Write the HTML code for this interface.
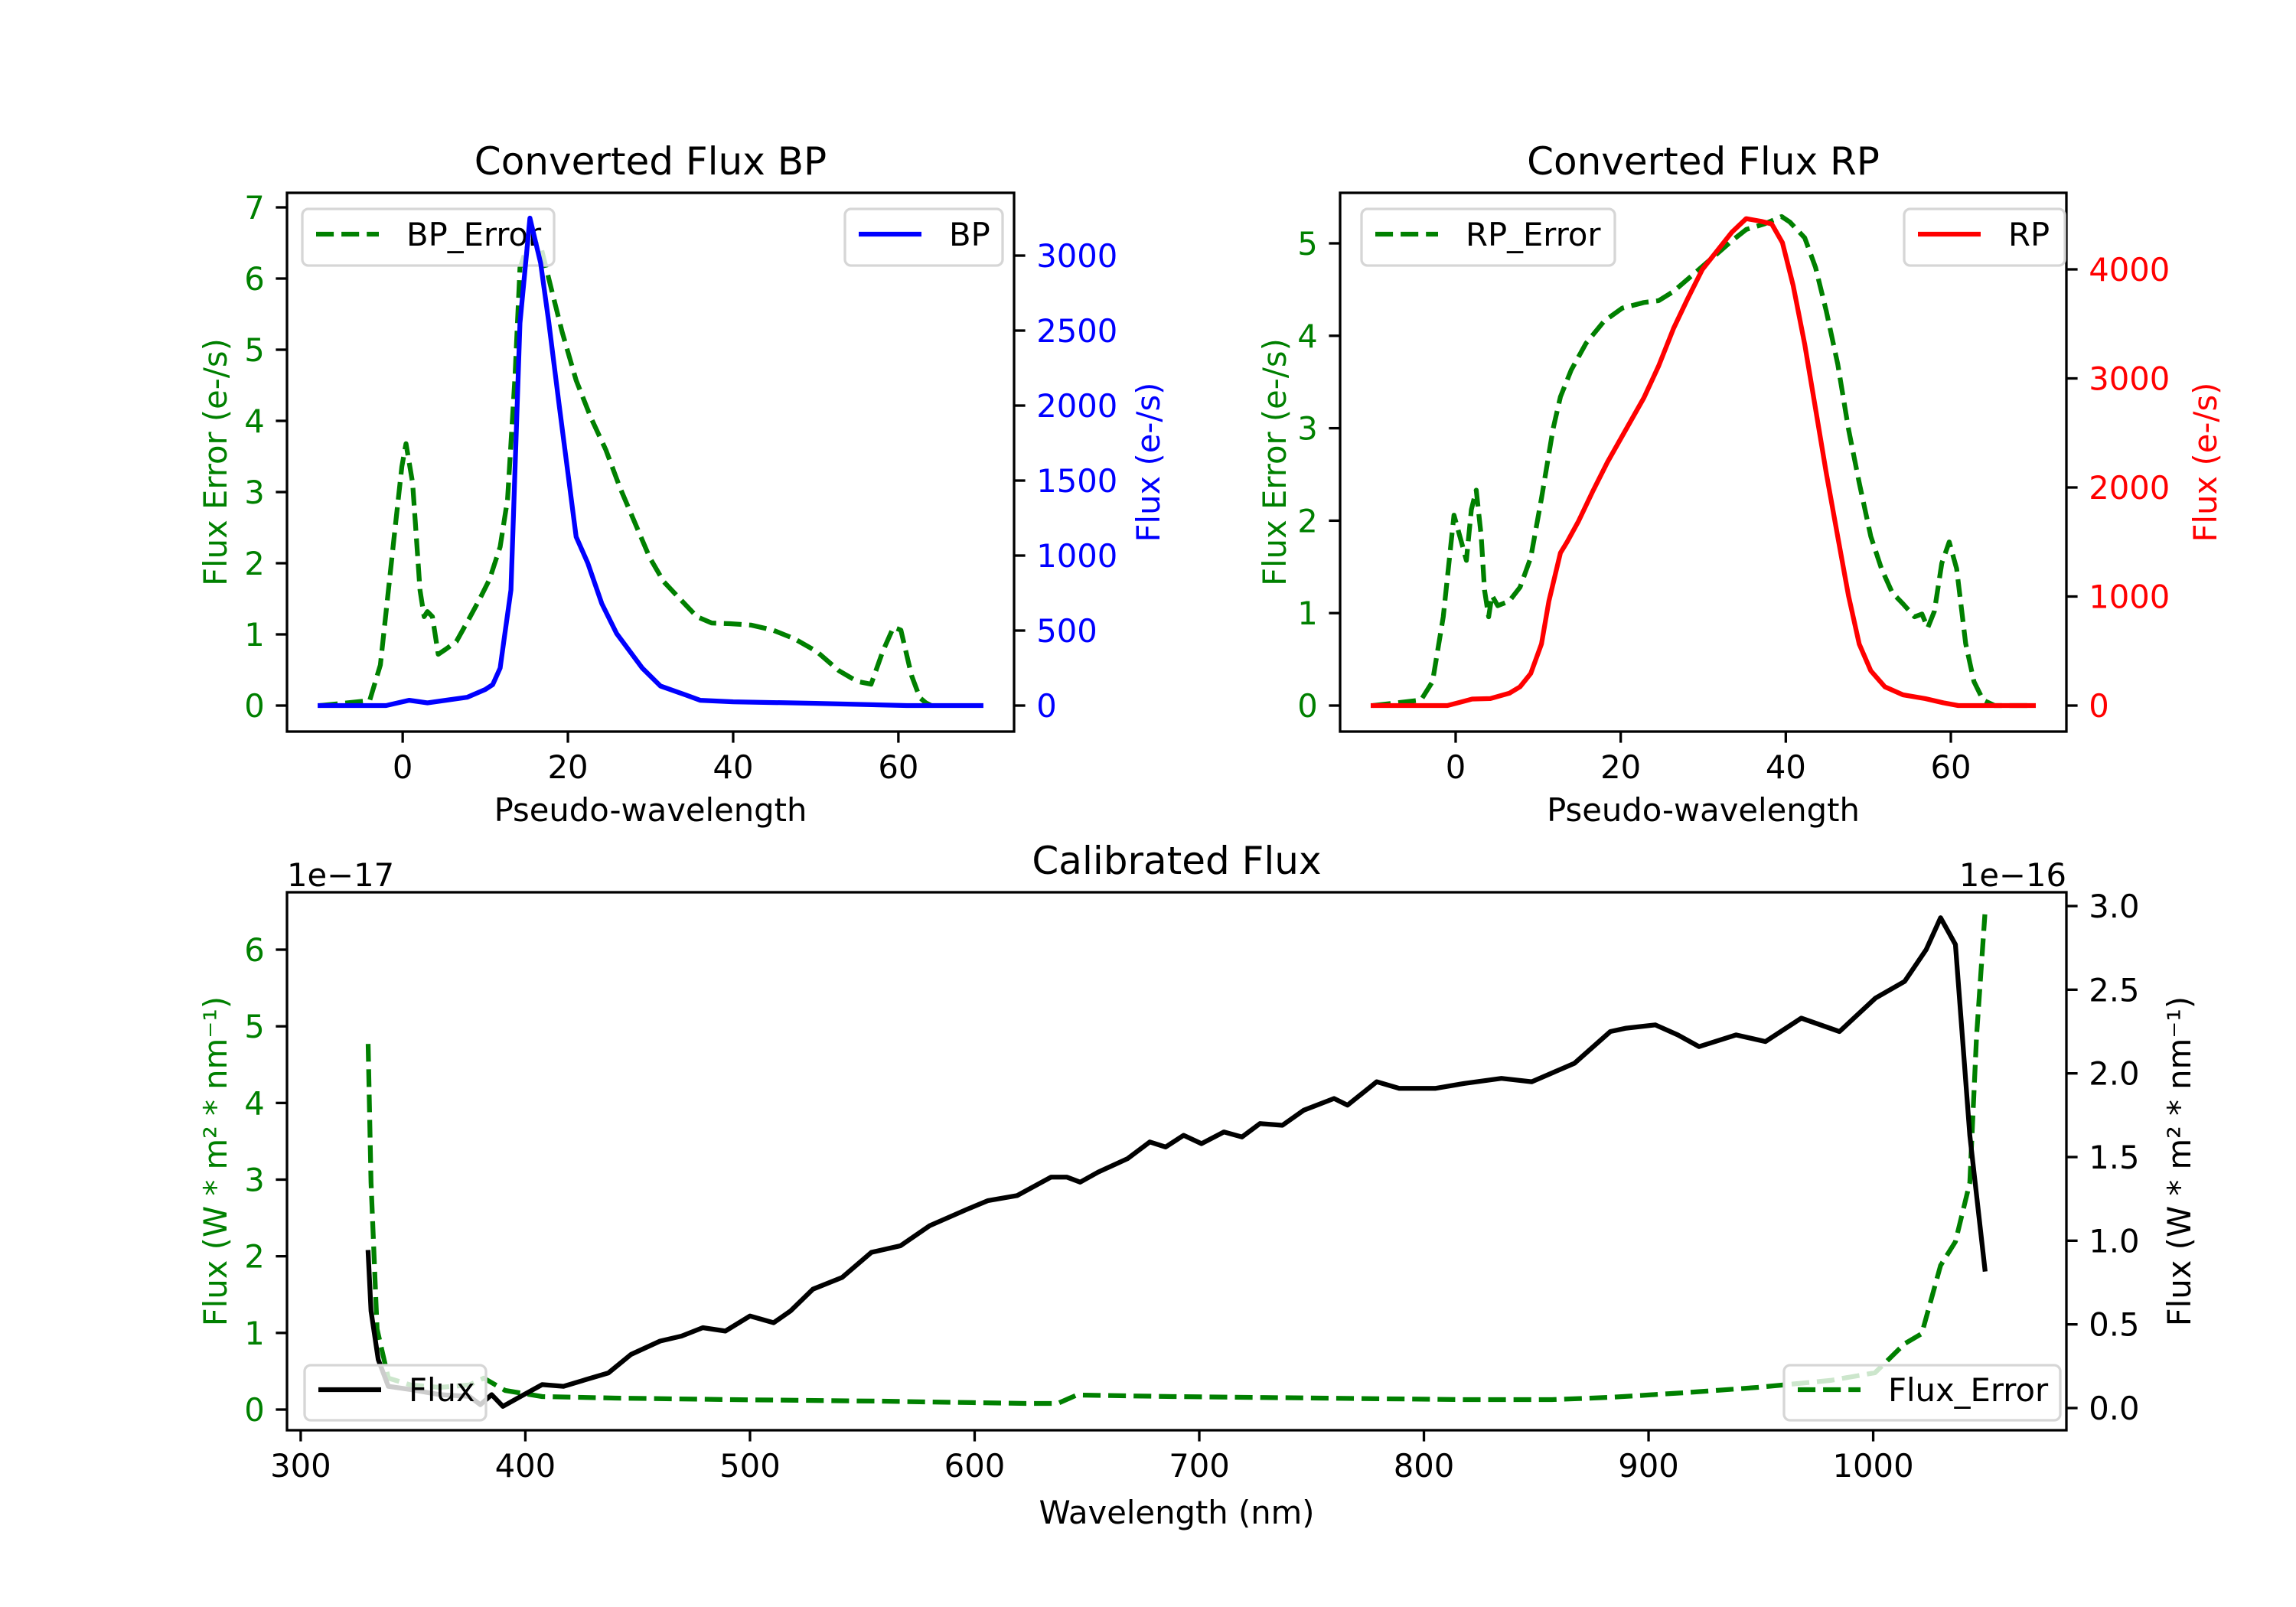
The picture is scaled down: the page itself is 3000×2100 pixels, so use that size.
<!DOCTYPE html>
<html><head><meta charset="utf-8"><style>
html,body{margin:0;padding:0;background:#fff}
svg{display:block;font-family:"DejaVu Sans","Liberation Sans",sans-serif}
</style></head><body>
<svg id="fig" width="3000" height="2100" viewBox="0 0 3000 2100" xmlns="http://www.w3.org/2000/svg">
<rect width="3000" height="2100" fill="#fff"/>
</svg>
<script>
// ---------- data ----------
const bpErrX=[-10,-4,-2.7,-1,-0.1,0.4,1.2,2.1,2.6,3,3.6,4.3,5.2,6.5,7.8,9.2,10.5,11.8,12.7,13.6,14.2,15.3,16.7,18,19.3,21,22.8,24.6,26.3,28.1,29.9,31.6,33.8,35.6,37.4,39.6,42.2,44.8,47.4,50.1,52.8,55,56.7,58.1,59.4,60.3,61.6,62.6,63.3,64];
const bpErrY=[0,0.07,0.57,2.4,3.36,3.68,3.13,1.62,1.25,1.32,1.25,0.72,0.79,0.9,1.17,1.47,1.77,2.23,2.9,4.64,6.15,6.53,6.46,5.85,5.25,4.57,4.04,3.59,3.06,2.57,2.08,1.74,1.47,1.25,1.16,1.15,1.13,1.06,0.94,0.76,0.49,0.34,0.3,0.76,1.1,1.06,0.42,0.11,0.04,0];
const bpX=[-10,-2,0.8,3,5.2,7.8,10,10.9,11.8,12.2,13.1,14.2,15.4,16.7,17.7,18.9,21,22.4,24.1,25.9,29,31.2,34.3,36,40,50,61,70];
const bpY=[0,0,35,18,35,55,107,140,250,410,770,2550,3250,2950,2550,2020,1125,950,680,480,250,130,70,35,25,15,0,0];
const rpErrX=[-10,-4.2,-2.8,-1.5,-0.2,0.7,1.3,1.9,2.5,3.1,3.5,4,4.4,5.1,6.5,7.8,9.1,10.4,11.8,12.7,14,15.8,18,20.2,22.8,24.6,26.4,28.6,31.2,33.5,35.2,37.4,39.5,40.5,42.3,43.6,44.9,46.3,47.6,48.9,50.3,51.6,52.9,54.2,55.6,56.5,57.2,58,58.9,59.8,60.7,61.8,62.8,63.9,65.3,70];
const rpErrY=[0,0.06,0.26,0.96,2.06,1.77,1.57,2.12,2.33,1.83,1.25,0.96,1.19,1.08,1.13,1.28,1.6,2.24,2.99,3.34,3.63,3.92,4.16,4.3,4.36,4.38,4.48,4.65,4.85,5.03,5.15,5.21,5.29,5.23,5.06,4.74,4.27,3.69,2.99,2.41,1.83,1.48,1.22,1.1,0.96,0.99,0.84,1.02,1.54,1.77,1.48,0.67,0.26,0.06,0,0];
const rpX=[-10,-1,0.3,2,4.2,6.5,7.8,9.1,10.4,11.3,12.7,13.5,14.9,16.6,18.4,20.6,22.8,24.6,26.4,28.1,29.9,31.7,33.5,35.2,37,38.3,39.6,40.9,42.3,43.6,44.9,46.3,47.6,48.9,50.3,52,54.2,56.9,59.1,60.9,70];
const rpY=[0,0,25,60,64,113,172,294,564,957,1400,1500,1693,1963,2233,2527,2822,3116,3459,3729,4000,4171,4343,4465,4441,4416,4244,3852,3312,2723,2134,1546,1006,564,319,172,98,64,25,0,0];
const calX=[330,331.3,334.5,339,349,362,375,380,385,390,398,407.5,417,427,437,447,460,469.5,479,489,500,510.5,518,528,541,554,567,580,597,606,619,634,641,647,655,668,678,685,693,701,711,719,727,737,746.5,760,766,779,789,805,818,834.5,848,867,883,890,903,913,922.5,939,952,968,985,1001,1014,1023.6,1030,1036.6,1043,1049.7];
const calY=[0.93,0.58,0.29,0.13,0.11,0.08,0.07,0.02,0.08,0.01,0.07,0.14,0.13,0.17,0.21,0.32,0.40,0.43,0.48,0.46,0.55,0.51,0.58,0.71,0.78,0.93,0.97,1.09,1.19,1.24,1.27,1.38,1.38,1.35,1.41,1.49,1.59,1.56,1.63,1.58,1.65,1.62,1.70,1.69,1.78,1.85,1.81,1.95,1.91,1.91,1.94,1.97,1.95,2.06,2.25,2.27,2.29,2.23,2.16,2.23,2.19,2.33,2.25,2.45,2.55,2.74,2.93,2.77,1.63,0.83];
const calErrX=[330,331.3,334,339,349,362,375,381.5,391,407.5,440,492,557.5,622.7,637,645.5,688,753,818,857,883,916,948.6,981,1000.8,1014,1021.6,1030,1036.6,1043,1046,1049.7];
const calErrY=[4.77,2.96,1.05,0.41,0.32,0.29,0.32,0.41,0.25,0.17,0.15,0.13,0.11,0.08,0.08,0.19,0.17,0.15,0.13,0.13,0.16,0.22,0.29,0.38,0.48,0.86,0.99,1.88,2.19,2.96,4.87,6.46];
const pseudoTicks=[0,20,40,60];
const bpErrTicks=[0,1,2,3,4,5,6,7];
const bpTicks=[0,500,1000,1500,2000,2500,3000];
const rpErrTicks=[0,1,2,3,4,5];
const rpTicks=[0,1000,2000,3000,4000];
const wlTicks=[300,400,500,600,700,800,900,1000];
const calErrTicks=[0,1,2,3,4,5,6];
const calTicks=[0,0.5,1.0,1.5,2.0,2.5,3.0];

// ---------- helpers ----------
const NS='http://www.w3.org/2000/svg';
const svg=document.getElementById('fig');
function mk(tag,attrs,parent){const e=document.createElementNS(NS,tag);for(const k in attrs)e.setAttribute(k,attrs[k]);(parent||svg).appendChild(e);return e;}
function scale(d0,d1,p0,p1){return v=>p0+(v-d0)*(p1-p0)/(d1-d0);}
const FS=41.7, LW=6.25, SW=3.3, TL=14.6;

function drawLine(xs,ys,sx,sy,color,dashed,name){
  let d='';xs.forEach((x,i)=>{d+=(i?'L':'M')+sx(x).toFixed(1)+','+sy(ys[i]).toFixed(1);});
  const p=mk('path',{d:d,fill:'none',stroke:color,'stroke-width':LW,'stroke-linejoin':'round','stroke-linecap':dashed?'butt':'square'});
  if(dashed)p.setAttribute('stroke-dasharray','23.1 10');
  
  
}
function xTicks(ticks,sx,yb,fmt){
  ticks.forEach(t=>{
    const x=sx(t);
    const l=mk('line',{x1:x,x2:x,y1:yb,y2:yb+TL,stroke:'#000','stroke-width':SW});
    
    
    const tx=mk('text',{x:x,y:yb+TL+14.6+FS*0.76,'font-size':FS,'text-anchor':'middle',fill:'#000'});
    tx.textContent=fmt?fmt(t):String(t);
    
    
  });
}
function yTicks(ticks,sy,xa,side,color,fmt){
  ticks.forEach(t=>{
    const y=sy(t);
    const x2=side==='l'?xa-TL:xa+TL;
    const l=mk('line',{x1:xa,x2:x2,y1:y,y2:y,stroke:'#000','stroke-width':SW});
    
    
    const tx=mk('text',{x:side==='l'?x2-14.6:x2+14.6,y:y+FS*0.36,'font-size':FS,'text-anchor':side==='l'?'end':'start',fill:color});
    tx.textContent=fmt?fmt(t):String(t);
    
    
  });
}
function frame(x0,y0,x1,y1,name){
  const r=mk('rect',{x:x0,y:y0,width:x1-x0,height:y1-y0,fill:'none',stroke:'#000','stroke-width':SW});
  
  
}
function text(str,x,y,size,anchor,color,name,rot){
  const t=mk('text',{x:x,y:y,'font-size':size,'text-anchor':anchor,fill:color});
  if(rot)t.setAttribute('transform','rotate(-90 '+x+' '+y+')');
  t.textContent=str;
  
  
  return t;
}
function legend(x0,y0,x1,y1,label,color,dashed,name){
  const g=mk('g',{});
  
  
  mk('rect',{x:x0,y:y0,width:x1-x0,height:y1-y0,rx:8,fill:'#fff','fill-opacity':0.8,stroke:'#d6d6d6','stroke-width':3.3},g);
  const cy=(y0+y1)/2-4;
  const ln=mk('line',{x1:x0+18,x2:x0+100,y1:cy,y2:cy,stroke:color,'stroke-width':LW},g);
  if(dashed)ln.setAttribute('stroke-dasharray','23.1 10');
  const t=mk('text',{x:x0+136,y:cy+15,'font-size':FS,'text-anchor':'start',fill:'#000'},g);
  t.textContent=label;
}

// ---------- BP ----------
(function(){
  const X0=375,X1=1325,Y0=252,Y1=956;
  const sx=scale(-14,74,X0,X1);
  const syL=scale(0,7,922,271);
  const syR=scale(0,3000,922,334);
  drawLine(bpErrX,bpErrY,sx,syL,'#008000',true,'bp-error-line');
  legend(395,273,724,347,'BP_Error','#008000',true,'bp-error-legend');
  drawLine(bpX,bpY,sx,syR,'#0000ff',false,'bp-flux-line');
  frame(X0,Y0,X1,Y1,'bp-axes');
  xTicks(pseudoTicks,sx,Y1);
  yTicks(bpErrTicks,syL,X0,'l','#008000');
  yTicks(bpTicks,syR,X1,'r','#0000ff');
  text('Converted Flux BP',(X0+X1)/2,228,50,'middle','#000','bp-title');
  text('Pseudo-wavelength',(X0+X1)/2,1073,FS,'middle','#000','bp-x-axis-title');
  text('Flux Error (e-/s)',296,(Y0+Y1)/2,FS,'middle','#008000','bp-left-axis-title',true);
  text('Flux (e-/s)',1515,(Y0+Y1)/2,FS,'middle','#0000ff','bp-right-axis-title',true);
  legend(1104,273,1310,347,'BP','#0000ff',false,'bp-legend');
})();

// ---------- RP ----------
(function(){
  const X0=1751,X1=2700,Y0=252,Y1=956;
  const sx=scale(-14,74,X0,X1);
  const syL=scale(0,5,922,318);
  const syR=scale(0,4000,922,352);
  drawLine(rpErrX,rpErrY,sx,syL,'#008000',true,'rp-error-line');
  legend(1779,273,2110,347,'RP_Error','#008000',true,'rp-error-legend');
  drawLine(rpX,rpY,sx,syR,'#ff0000',false,'rp-flux-line');
  frame(X0,Y0,X1,Y1,'rp-axes');
  xTicks(pseudoTicks,sx,Y1);
  yTicks(rpErrTicks,syL,X0,'l','#008000');
  yTicks(rpTicks,syR,X1,'r','#ff0000');
  text('Converted Flux RP',(X0+X1)/2,228,50,'middle','#000','rp-title');
  text('Pseudo-wavelength',(X0+X1)/2,1073,FS,'middle','#000','rp-x-axis-title');
  text('Flux Error (e-/s)',1680,(Y0+Y1)/2,FS,'middle','#008000','rp-left-axis-title',true);
  text('Flux (e-/s)',2896,(Y0+Y1)/2,FS,'middle','#ff0000','rp-right-axis-title',true);
  legend(2488,273,2698,347,'RP','#ff0000',false,'rp-legend');
})();

// ---------- Calibrated ----------
(function(){
  const X0=375,X1=2700,Y0=1166,Y1=1869;
  const sx=scale(293.9,1086,X0,X1);
  const syL=scale(0,6,1842,1241);
  const syR=scale(0,3.0,1840,1184);
  drawLine(calErrX,calErrY,sx,syL,'#008000',true,'flux-error-line');
  drawLine(calX,calY,sx,syR,'#000000',false,'flux-line');
  frame(X0,Y0,X1,Y1,'calibrated-axes');
  xTicks(wlTicks,sx,Y1);
  yTicks(calErrTicks,syL,X0,'l','#008000');
  yTicks(calTicks,syR,X1,'r','#000',v=>v.toFixed(1));
  text('Calibrated Flux',(X0+X1)/2,1142,50,'middle','#000','calibrated-title');
  text('Wavelength (nm)',(X0+X1)/2,1991,FS,'middle','#000','calibrated-x-axis-title');
  text('1e\u221217',X0,1158,FS,'start','#000','left-offset-text');
  text('1e\u221216',X1,1158,FS,'end','#000','right-offset-text');
  text('Flux (W * m\u00b2 * nm\u207b\u00b9)',296,(Y0+Y1)/2,FS,'middle','#008000','calibrated-left-axis-title',true);
  text('Flux (W * m\u00b2 * nm\u207b\u00b9)',2862,(Y0+Y1)/2,FS,'middle','#000','calibrated-right-axis-title',true);
  legend(398,1784,635,1856,'Flux','#000',false,'flux-legend');
  legend(2331,1784,2692,1856,'Flux_Error','#008000',true,'flux-error-legend');
})();
</script>
</body></html>
